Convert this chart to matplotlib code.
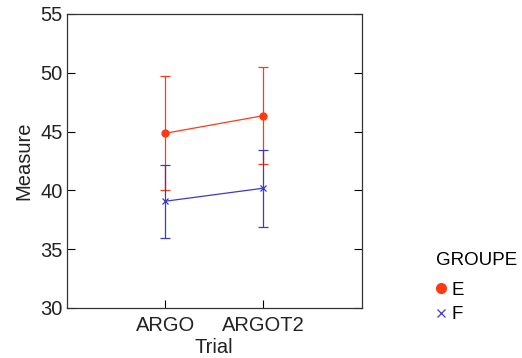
import numpy as np
import matplotlib.pyplot as plt

plt.rcParams['font.family'] = ['Liberation Sans', 'DejaVu Sans']

trials = ['ARGO', 'ARGOT2']
e_mean = [44.85, 46.35]
e_err = [4.85, 4.1]
f_mean = [39.07, 40.18]
f_err = [3.1, 3.28]

red = '#ff3a12'
blue = '#3a3acc'

fig = plt.figure(figsize=(5.22, 3.58), dpi=100)
ax = fig.add_axes([0.128, 0.140, 0.565, 0.821])

x = np.arange(1, len(trials) + 1)
ax.errorbar(x, e_mean, yerr=e_err, color=red, marker='o', markersize=5,
            linewidth=0.9, elinewidth=0.9, capsize=3.5, capthick=0.9, label='E')
ax.errorbar(x, f_mean, yerr=f_err, color=blue, marker='x', markersize=5,
            markeredgewidth=0.9, linewidth=0.9, elinewidth=0.9, capsize=3.5,
            capthick=0.9, label='F')

ax.set_xlim(0, 3)
ax.set_ylim(30, 55)
ax.set_xticks(x)
ax.set_xticklabels(trials)
ax.set_yticks([30, 35, 40, 45, 50, 55])
ax.tick_params(axis='y', direction='in', right=True, labelsize=14.5, length=6,
               pad=3, labelcolor='#222222')
ax.tick_params(axis='x', direction='in', labelsize=14.5, length=6, pad=6,
               labelcolor='#222222')
for s in ax.spines.values():
    s.set_linewidth(0.9)
    s.set_color('#333333')
ax.set_xlabel('Trial', fontsize=14.5, labelpad=2, color='#222222')
ax.set_ylabel('Measure', fontsize=14.5, labelpad=5, color='#222222')

handles = [plt.Line2D([], [], color=red, marker='o', linestyle='none', markersize=7),
           plt.Line2D([], [], color=blue, marker='x', linestyle='none', markersize=6,
                      markeredgewidth=0.9)]
leg = fig.legend(handles, ['E', 'F'], title='GROUPE', loc='upper left',
                 bbox_to_anchor=(0.818, 0.322), frameon=False, fontsize=13.5,
                 title_fontsize=13.5, handlelength=0.5, handletextpad=0.3,
                 labelspacing=0.4, borderpad=0)
leg._legend_box.align = 'left'
leg._legend_box.sep = 9

fig.savefig('out.png', dpi=100)
